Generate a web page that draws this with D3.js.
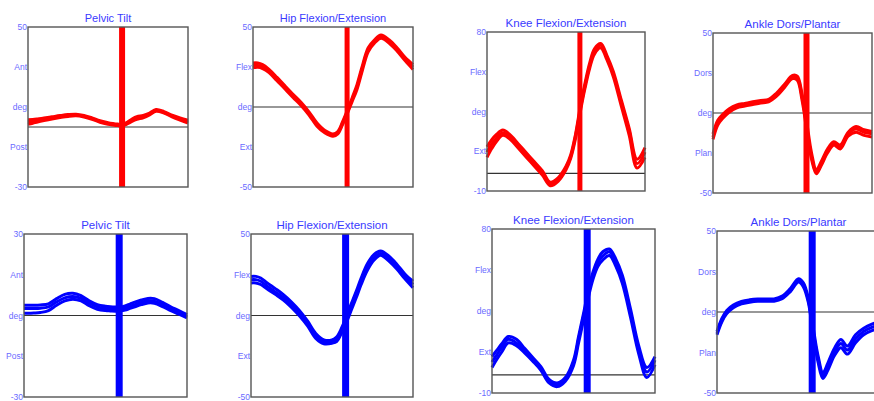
<!DOCTYPE html>
<html>
<head>
<meta charset="utf-8">
<script src="https://cdn.jsdelivr.net/npm/d3@7"></script>
<style>
  html, body { margin: 0; padding: 0; background: #fff; }
  svg { display: block; }
</style>
</head>
<body>
<svg id="chart" width="874" height="401"></svg>
<script>
// Gait cycle sample points (% of cycle)
const gaitPct = [0,3,6,10,15,20,25,30,35,40,45,50,53,56,59,62,65,68,72,76,80,85,90,95,100];

const titles = ["Pelvic Tilt", "Hip Flexion/Extension", "Knee Flexion/Extension", "Ankle Dors/Plantar"];

// y-axis ranges per joint, top row (red) and bottom row (blue)
const yRangesRed  = [[-30, 50], [-50, 50], [-10, 80], [-50, 50]];
const yRangesBlue = [[-30, 30], [-50, 50], [-10, 80], [-50, 50]];

// tick labels, bottom to top
const tickLabelsRed = [
  ["-30", "Post", "deg", "Ant", "50"],
  ["-50", "Ext", "deg", "Flex", "50"],
  ["-10", "Ext", "deg", "Flex", "80"],
  ["-50", "Plan", "deg", "Dors", "50"]
];
const tickLabelsBlue = [
  ["-30", "Post", "deg", "Ant", "30"],
  ["-50", "Ext", "deg", "Flex", "50"],
  ["-10", "Ext", "deg", "Flex", "80"],
  ["-50", "Plan", "deg", "Dors", "50"]
];

// toe-off, % of gait cycle
const toeOffRed  = 58.8;
const toeOffBlue = 58.4;

// ---- red trials (degrees) ----
const pelvicRed = [
  [3.6,3.7,4,4.5,5.1,5.7,6.2,6.4,5.8,4.6,3.1,2.2,1.8,1.5,1.4,2.4,4,5.2,5.8,7,8.7,7.7,5.9,4.5,3.4],
  [2.5,2.8,3.2,3.8,4.5,5.2,5.8,6,5.4,4.2,2.7,1.8,1.4,1.1,1,2,3.5,4.5,5.2,6.5,8.3,7.3,5.5,4,2.8],
  [1.4,1.9,2.5,3.2,4,4.7,5.3,5.6,5,3.9,2.4,1.4,1,0.7,0.6,1.5,2.8,3.8,4.6,6,7.9,7,5.1,3.5,2]
];
const hipRed = [
  [27.5,27.5,26.5,23.5,18.5,13.2,8,3,-3,-10,-14.7,-16.8,-15.3,-9.2,-2,5.8,14,24.5,37,42,45,42,37,31,26.5],
  [26,26,25.2,22.5,17.4,12.3,7,2,-4,-11,-15.5,-17.5,-16,-10,-3,4.7,12.5,23,36,41,44,41,36,30,25],
  [24.5,24.8,24,21.5,16.4,11.3,6,1,-5,-12,-16.3,-18.3,-16.8,-11,-4,3.5,11,21.5,34.5,40,43,40,35,29,23.5]
];
const kneeRed = [
  [15,19,22,24.5,21.5,16.5,11.5,6.5,1.5,-5,-2.5,4,10.5,22,37.5,51,62.5,70.5,73.5,66.5,57.5,41.5,25.5,8,14.5],
  [12,16.5,20,23,20,15,10,5,0,-6,-3.5,3,9.5,21,36,49.5,61,69,72.5,65.5,56,40,24,5.5,12],
  [9,14,18,21.5,19,14,9,4,-1,-7,-4.5,2,8.5,19.5,34.5,48,59.5,67.5,71,64,54.5,38,21.5,3,9]
];
const ankleRed = [
  [-13,-4.5,-1,2.5,5,6,7,7.8,8.5,12.5,18,23.5,23,12,-6,-25,-35.5,-30.5,-22.5,-18,-20,-12,-8.5,-10.5,-11.5],
  [-15,-6,-2.5,1.2,4,5,6,7,7.8,11.5,17,22.5,22,10,-9,-27.5,-37,-32,-24,-19,-21.5,-13,-10,-12,-13],
  [-16.5,-7.5,-3.5,0.3,3.2,4.3,5.3,6.3,7,10.5,16,21.5,20.5,8,-11,-29,-38,-33,-25,-20,-22.5,-14.5,-12,-14,-15]
];

// ---- blue trials (degrees) ----
const pelvicBlue = [
  [3.8,3.8,3.8,3.9,4.3,6.2,7.8,8.2,7.3,5.4,4,3.4,3.2,3.1,3.1,3.5,4.2,4.9,5.7,6.3,6.2,4.8,3.2,1.8,0.3],
  [2.6,2.6,2.6,2.7,3.2,5,6.5,7,6.3,4.5,3.2,2.6,2.4,2.3,2.3,2.7,3.3,4,4.8,5.4,5.3,4,2.5,1.2,-0.3],
  [0.8,0.8,0.9,1.1,1.8,3.8,5.4,6,5.4,3.6,2.3,1.8,1.7,1.6,1.7,2,2.6,3.2,4,4.6,4.5,3.3,1.8,0.5,-0.9]
];
const hipBlue = [
  [24,24,23,20,16.5,12.8,8.3,3,-3.5,-11,-15,-15,-13,-7.5,0,7.5,15,23,32,37.5,39.5,36.5,31.5,25.5,21],
  [22,22,21,18,14.5,11,6.5,1.2,-5,-12.5,-16,-16,-14.5,-9,-2,5.5,13,21,30,35.5,38,35,30,24,19],
  [20,20,19,16.3,13,9.5,5,-0.3,-6.5,-14,-17.3,-17,-15.8,-10.5,-4,3.5,11,19,28,34,37,33.5,28.5,22.5,17]
];
const kneeBlue = [
  [10,13.5,17,21,19.5,14.5,9.5,4.5,-2.5,-4.5,-1.5,8,20.5,33,46,56.5,63.5,67.5,69,63.5,54.5,36,16,4,10],
  [7,11,15,19.5,17.5,13.3,8.5,3.5,-3.5,-5.5,-2.5,6.5,19,31.5,44,54.4,61.6,65.2,67.5,61.4,52,34,14,1.5,8],
  [4,8.5,12.5,17.5,16,12,7.5,2.5,-4.5,-6.5,-3.5,5,17,29.5,42,52.5,59.5,63,65.5,59.5,50,31.5,11.5,-1.5,5.5]
];
const ankleBlue = [
  [-12,-4,1,4.3,6.5,7.5,8,8.1,8.1,9.8,14.5,20.5,18,8.7,-9.5,-27,-37.5,-31.5,-22.5,-17,-21,-14,-10,-7.5,-6],
  [-13,-5,0,3.5,5.8,6.8,7.3,7.4,7.4,9,13.5,19.5,16.7,7.4,-11.7,-29,-39.5,-34,-25,-19.5,-23.5,-16.5,-12,-9.5,-8],
  [-14,-6,-1,2.7,5,6,6.6,6.7,6.7,8.2,12.6,18.5,15.5,6,-13.5,-31,-41,-36,-27,-22,-26,-19,-14,-11.5,-10]
];

// ---- layout: plot boxes (px) and title sizes ----
const layout = [
  { x0: 28,  x1: 188, y0: 27,  y1: 187, fs: 11 },
  { x0: 253, x1: 413, y0: 27,  y1: 187, fs: 11 },
  { x0: 487, x1: 645, y0: 32,  y1: 191, fs: 11.5 },
  { x0: 713, x1: 872, y0: 33,  y1: 193, fs: 11.5 },
  { x0: 24,  x1: 187, y0: 234, y1: 397, fs: 11.5 },
  { x0: 251, x1: 413, y0: 234, y1: 397, fs: 11.5 },
  { x0: 492, x1: 655, y0: 229, y1: 393, fs: 11.5 },
  { x0: 717, x1: 880, y0: 231, y1: 393, fs: 11.5 }
];
const barWidths = [6, 5, 5, 6, 7, 7, 7, 7];

const panels = [
  { title: titles[0], range: yRangesRed[0],  ticks: tickLabelsRed[0],  trials: pelvicRed,  color: "#ff0000", toeOff: toeOffRed },
  { title: titles[1], range: yRangesRed[1],  ticks: tickLabelsRed[1],  trials: hipRed,     color: "#ff0000", toeOff: toeOffRed },
  { title: titles[2], range: yRangesRed[2],  ticks: tickLabelsRed[2],  trials: kneeRed,    color: "#ff0000", toeOff: toeOffRed },
  { title: titles[3], range: yRangesRed[3],  ticks: tickLabelsRed[3],  trials: ankleRed,   color: "#ff0000", toeOff: toeOffRed },
  { title: titles[0], range: yRangesBlue[0], ticks: tickLabelsBlue[0], trials: pelvicBlue, color: "#0000ff", toeOff: toeOffBlue },
  { title: titles[1], range: yRangesBlue[1], ticks: tickLabelsBlue[1], trials: hipBlue,    color: "#0000ff", toeOff: toeOffBlue },
  { title: titles[2], range: yRangesBlue[2], ticks: tickLabelsBlue[2], trials: kneeBlue,   color: "#0000ff", toeOff: toeOffBlue },
  { title: titles[3], range: yRangesBlue[3], ticks: tickLabelsBlue[3], trials: ankleBlue,  color: "#0000ff", toeOff: toeOffBlue }
];

const svg = d3.select("#chart");
const FONT = "'Liberation Sans', Arial, sans-serif";

panels.forEach((p, i) => {
  const L = layout[i];
  const x = d3.scaleLinear().domain([0, 100]).range([L.x0, L.x1]);
  const y = d3.scaleLinear().domain(p.range).range([L.y1, L.y0]);
  const g = svg.append("g");

  // title
  g.append("text")
    .attr("x", (L.x0 + L.x1) / 2)
    .attr("y", L.y0 - 5)
    .attr("text-anchor", "middle")
    .attr("font-family", FONT)
    .attr("font-size", L.fs)
    .attr("fill", "#3a3aff")
    .text(p.title);

  // zero line
  g.append("line")
    .attr("x1", L.x0).attr("x2", L.x1)
    .attr("y1", y(0)).attr("y2", y(0))
    .attr("stroke", "#333").attr("stroke-width", 1.2);

  // trial curves
  const line = d3.line()
    .x((d, j) => x(gaitPct[j]))
    .y(d => y(d))
    .curve(d3.curveCatmullRom.alpha(0.5));
  g.selectAll("path.trial")
    .data(p.trials)
    .join("path")
    .attr("class", "trial")
    .attr("d", line)
    .attr("fill", "none")
    .attr("stroke", p.color)
    .attr("stroke-width", 3)
    .attr("stroke-linejoin", "round");

  // toe-off bar
  const bw = barWidths[i];
  g.append("rect")
    .attr("x", x(p.toeOff) - bw / 2)
    .attr("y", L.y0)
    .attr("width", bw)
    .attr("height", L.y1 - L.y0)
    .attr("fill", p.color);

  // frame
  g.append("rect")
    .attr("x", L.x0).attr("y", L.y0)
    .attr("width", L.x1 - L.x0).attr("height", L.y1 - L.y0)
    .attr("fill", "none")
    .attr("stroke", "#555").attr("stroke-width", 1.4);

  // y-axis labels at quarter divisions
  const [lo, hi] = p.range;
  const tickVals = p.ticks.map((t, k) => lo + (hi - lo) * k / (p.ticks.length - 1));
  const axis = d3.axisLeft(y)
    .tickValues(tickVals)
    .tickFormat((d, k) => p.ticks[k])
    .tickSize(0)
    .tickPadding(1);
  const ag = g.append("g")
    .attr("transform", `translate(${L.x0},0)`)
    .call(axis);
  ag.select(".domain").remove();
  ag.selectAll("text")
    .attr("font-family", FONT)
    .attr("font-size", 8.5)
    .attr("fill", "#6a6aff");
});
</script>
</body>
</html>
